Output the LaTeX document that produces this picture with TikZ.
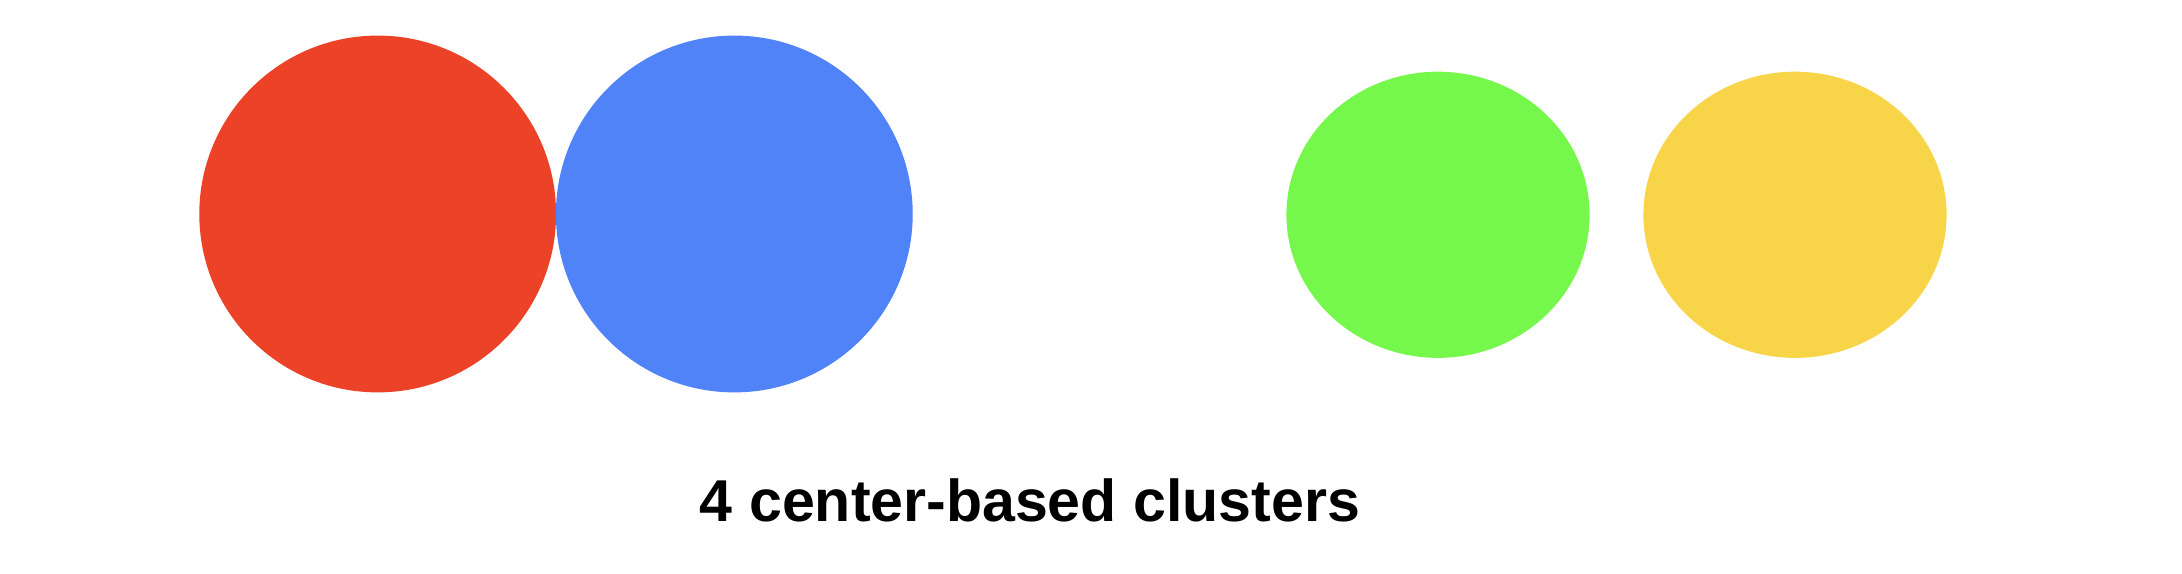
\documentclass[tikz,border=0pt]{standalone}
\usepackage{fontspec}
\setmainfont{Liberation Sans}
\usetikzlibrary{shapes.geometric}
\definecolor{cred}{RGB}{236,66,39}
\definecolor{cblue}{RGB}{80,131,247}
\definecolor{cgreen}{RGB}{118,247,76}
\definecolor{cyellow}{RGB}{248,213,72}
\begin{document}
\begin{tikzpicture}[x=0.01cm,y=-0.01cm,
  bigdot/.style={circle,inner sep=0pt,minimum size=3.566cm,draw=none},
  oval/.style={ellipse,inner sep=0pt,minimum width=3.03cm,minimum height=2.86cm,draw=none},
  caption/.style={font=\fontsize{16.8}{20}\selectfont\bfseries,inner sep=0pt,anchor=base}]
\useasboundingbox (0,0) rectangle (2182,574);
\node[bigdot,fill=cred] (red) at (377.7,214) {};
\node[bigdot,fill=cblue] (blue) at (734.3,214) {};
\node[oval,fill=cgreen] (green) at (1438,214.8) {};
\node[oval,fill=cyellow] (yellow) at (1795,214.8) {};
\node[caption] (cap) at (1030,522) {4 center-based clusters};
\end{tikzpicture}
\end{document}
